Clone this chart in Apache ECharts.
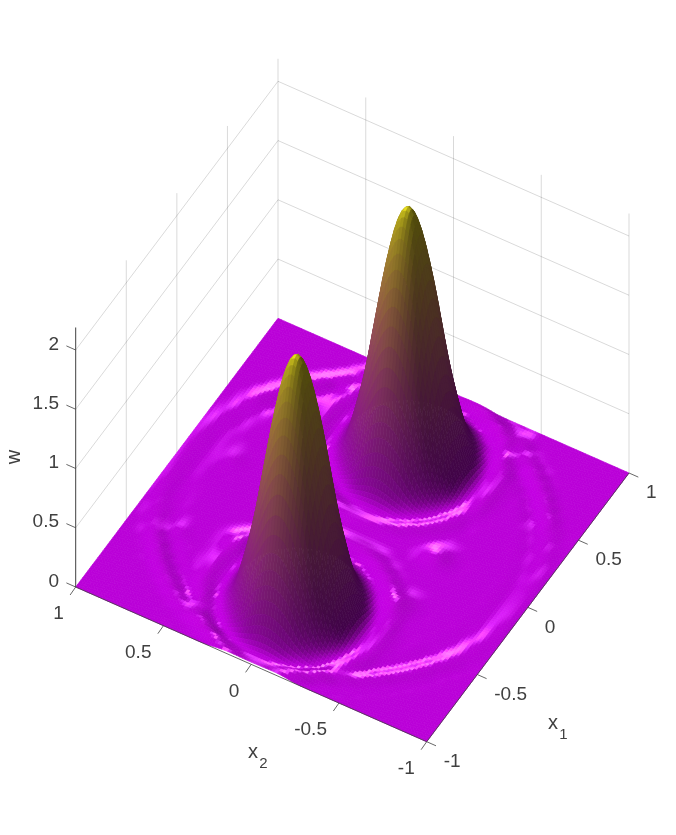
<!DOCTYPE html>
<html><head><meta charset="utf-8">
<style>html,body{margin:0;padding:0;background:#fff}#c{width:676px;height:835px}</style>
<script src="https://cdn.jsdelivr.net/npm/echarts@6/dist/echarts.min.js"></script>
</head><body><div id="c"></div>
<script>
// x1 runs along columns, x2 along rows
const x1Nodes=[-1,-.95,-.9,-.85,-.8,-.75,-.7,-.65,-.6,-.55,-.5,-.45,-.4,-.35,-.3,-.25,-.2,-.15,-.1,-.05,0,.05,.1,.15,.2,.25,.3,.35,.4,.45,.5,.55,.6,.65,.7,.75,.8,.85,.9,.95,1];
const x2Nodes=[1,.95,.9,.85,.8,.75,.7,.65,.6,.55,.5,.45,.4,.35,.3,.25,.2,.15,.1,.05,0,-.05,-.1,-.15,-.2,-.25,-.3,-.35,-.4,-.45,-.5,-.55,-.6,-.65,-.7,-.75,-.8,-.85,-.9,-.95,-1];
const x1Ticks=[-1,-.5,0,.5,1];
const x2Ticks=[-1,-.5,0,.5,1];
const wTicks=[0,.5,1,1.5,2];
const wTop=2.19;
const w=[
[0,0,0,0,0,0,0,0,0,0,0,0,0,0,0,0,0,0,0,0,0,0,0,0,0,0,0,0,0,0,0,0,0,0,0,0,0,0,0,0,0],
[0,0,0,0,0,0,0,0,0,0,0,0,0,0,.002,.006,.008,.01,.008,.008,.007,.008,.008,.01,.008,.006,.002,0,0,0,0,0,0,0,0,0,0,0,0,0,0],
[0,0,0,0,0,0,0,0,0,0,0,.001,.005,.009,.006,.001,-.002,-.003,-.004,-.005,-.005,-.005,-.004,-.003,-.002,.001,.006,.009,.005,.001,0,0,0,0,0,0,0,0,0,0,0],
[0,0,0,0,0,0,0,0,0,.001,.011,.01,.003,-.003,-.005,-.003,-.002,-.001,0,0,0,0,0,-.001,-.002,-.003,-.005,-.003,.003,.01,.011,.001,0,0,0,0,0,0,0,0,0],
[0,0,0,0,0,0,0,0,.003,.017,.009,-.003,-.004,-.002,0,0,0,0,0,0,0,0,0,0,0,0,0,-.002,-.004,-.003,.009,.017,.003,0,0,0,0,0,0,0,0],
[0,0,0,0,0,0,0,.007,.02,0,-.01,.006,.004,0,0,0,0,0,0,0,0,.004,.008,.004,0,0,0,0,0,-.002,-.01,0,.02,.007,0,0,0,0,0,0,0],
[0,0,0,0,0,0,.008,.017,-.005,-.007,-.002,.003,0,0,0,0,0,0,0,0,0,0,.004,0,0,0,0,0,0,0,-.002,-.007,-.005,.017,.008,0,0,0,0,0,0],
[0,0,0,0,0,.007,.017,-.006,-.006,0,0,0,0,0,0,0,0,0,0,0,0,0,0,0,0,0,0,0,0,0,0,0,-.006,-.006,.017,.007,0,0,0,0,0],
[0,0,0,0,.003,.02,-.005,-.006,0,0,0,0,0,0,0,0,0,0,0,0,0,0,0,0,0,0,0,0,0,0,0,0,0,-.006,-.005,.02,.003,0,0,0,0],
[0,0,0,.001,.017,0,-.007,0,0,0,0,0,0,0,0,0,0,0,0,0,0,0,0,0,0,0,0,0,0,0,0,0,0,0,-.007,0,.017,.001,0,0,0],
[0,0,0,.011,.009,-.01,0,.005,.009,.01,.009,.005,.007,.01,.005,0,0,0,0,0,0,0,0,0,0,0,0,0,.002,.005,.009,.01,.009,.005,0,-.01,.009,.011,0,0,0],
[0,0,.002,.02,-.003,.011,.02,.02,.017,.016,.017,.02,.03,.034,.013,0,0,0,0,0,0,0,0,0,0,0,0,.003,.014,.02,.02,.017,.016,.017,.02,.02,.011,-.003,.02,.002,0],
[0,0,.012,.016,.012,.014,-.003,-.012,-.011,-.01,-.011,-.012,.002,.024,.025,.01,.001,0,0,0,0,0,0,0,.001,.01,.02,.014,-.003,-.012,-.011,-.01,-.011,-.012,-.003,.014,.012,.016,.012,0,0],
[0,.002,.031,.014,-.003,-.011,-.005,.008,.02,.025,.02,.008,-.005,-.011,0,.02,.013,.001,0,0,0,0,0,.001,.013,.02,0,-.011,-.005,.008,.02,.025,.02,.008,-.005,-.011,-.003,.014,.031,.002,0],
[0,.015,.033,-.015,-.006,.012,.045,.085,.125,.14,.125,.085,.045,.012,-.005,-.005,.02,.01,0,0,0,0,0,.01,.02,-.005,-.005,.012,.045,.085,.125,.14,.125,.085,.045,.012,-.006,-.015,.033,.015,0],
[.003,.032,.002,-.011,.02,.075,.18,.32,.40,.43,.40,.32,.18,.075,.02,-.005,0,.02,.003,0,0,0,.003,.02,0,-.005,.02,.075,.18,.32,.40,.43,.40,.32,.18,.075,.02,-.011,.002,.032,.003],
[.014,.031,-.016,.009,.075,.22,.43,.60,.75,.80,.75,.60,.43,.22,.075,.012,-.011,.014,.014,0,0,0,.014,.014,-.011,.012,.075,.22,.43,.60,.75,.80,.75,.60,.43,.22,.075,.009,-.016,.031,.014],
[.021,.017,-.012,.043,.18,.43,.70,.98,1.18,1.26,1.18,.98,.70,.43,.18,.045,-.005,-.003,.02,.002,0,.002,.02,-.003,-.005,.045,.18,.43,.70,.98,1.18,1.26,1.18,.98,.70,.43,.18,.043,-.012,.017,.021],
[.022,.005,-.001,.084,.32,.60,.98,1.35,1.59,1.68,1.59,1.35,.98,.60,.32,.085,.008,-.012,.02,.005,0,.005,.02,-.012,.008,.085,.32,.60,.98,1.35,1.59,1.68,1.59,1.35,.98,.60,.32,.084,-.001,.005,.022],
[.02,.004,.01,.125,.40,.75,1.18,1.59,1.88,1.99,1.88,1.59,1.18,.75,.40,.125,.02,-.011,.017,.009,0,.009,.017,-.011,.02,.125,.40,.75,1.18,1.59,1.88,1.99,1.88,1.59,1.18,.75,.40,.125,.01,.004,.02],
[.019,.004,.015,.14,.43,.80,1.26,1.68,1.99,2.10,1.99,1.68,1.26,.80,.43,.14,.025,-.01,.016,.01,0,.01,.016,-.01,.025,.14,.43,.80,1.26,1.68,1.99,2.10,1.99,1.68,1.26,.80,.43,.14,.015,.004,.019],
[.02,.004,.01,.125,.40,.75,1.18,1.59,1.88,1.99,1.88,1.59,1.18,.75,.40,.125,.02,-.011,.017,.009,0,.009,.017,-.011,.02,.125,.40,.75,1.18,1.59,1.88,1.99,1.88,1.59,1.18,.75,.40,.125,.01,.004,.02],
[.022,.005,-.001,.084,.32,.60,.98,1.35,1.59,1.68,1.59,1.35,.98,.60,.32,.085,.008,-.012,.02,.005,0,.005,.02,-.012,.008,.085,.32,.60,.98,1.35,1.59,1.68,1.59,1.35,.98,.60,.32,.084,-.001,.005,.022],
[.021,.017,-.012,.043,.18,.43,.70,.98,1.18,1.26,1.18,.98,.70,.43,.18,.045,-.005,-.003,.02,.002,0,.002,.02,-.003,-.005,.045,.18,.43,.70,.98,1.18,1.26,1.18,.98,.70,.43,.18,.043,-.012,.017,.021],
[.014,.031,-.016,.009,.075,.22,.43,.60,.75,.80,.75,.60,.43,.22,.075,.012,-.011,.014,.014,0,0,0,.014,.014,-.011,.012,.075,.22,.43,.60,.75,.80,.75,.60,.43,.22,.075,.009,-.016,.031,.014],
[.003,.032,.002,-.011,.02,.075,.18,.32,.40,.43,.40,.32,.18,.075,.02,-.005,0,.02,.003,0,0,0,.003,.02,0,-.005,.02,.075,.18,.32,.40,.43,.40,.32,.18,.075,.02,-.011,.002,.032,.003],
[0,.015,.033,-.015,-.006,.012,.045,.085,.125,.14,.125,.085,.045,.012,-.005,-.005,.02,.01,0,0,0,0,0,.01,.02,-.005,-.005,.012,.045,.085,.125,.14,.125,.085,.045,.012,-.006,-.015,.033,.015,0],
[0,.002,.031,.014,-.003,-.011,-.005,.008,.02,.025,.02,.008,-.005,-.011,0,.02,.013,.001,0,0,0,0,0,.001,.013,.02,0,-.011,-.005,.008,.02,.025,.02,.008,-.005,-.011,-.003,.014,.031,.002,0],
[0,0,.012,.016,.012,.014,-.003,-.012,-.011,-.01,-.011,-.012,-.003,.019,.03,.015,.001,0,0,0,.006,.012,.006,0,.001,.01,.02,.014,-.003,-.012,-.011,-.01,-.011,-.012,-.003,.014,.012,.016,.012,0,0],
[0,0,.002,.02,-.003,.011,.02,.02,.017,.016,.017,.02,.02,.024,.023,.01,0,0,0,0,.012,.025,.012,0,0,0,0,.003,.014,.02,.02,.017,.016,.017,.02,.02,.011,-.003,.02,.002,0],
[0,0,0,.011,.009,-.01,0,.005,.009,.01,.009,.005,.002,.005,.01,.005,0,0,0,0,.006,.012,.006,0,0,0,0,0,.002,.005,.009,.01,.009,.005,0,-.01,.009,.011,0,0,0],
[0,0,0,.001,.017,0,-.007,0,0,0,0,0,0,0,0,0,0,0,0,0,0,0,0,0,0,0,0,0,0,0,0,0,0,0,-.007,0,.017,.001,0,0,0],
[0,0,0,0,.003,.02,-.005,-.006,0,0,0,0,0,0,0,0,0,0,0,0,0,0,0,0,0,0,0,0,0,0,0,0,0,-.006,-.005,.02,.003,0,0,0,0],
[0,0,0,0,0,.007,.017,-.006,-.006,0,0,0,0,0,0,0,0,0,0,0,0,0,0,0,0,0,0,0,0,0,0,0,-.006,-.006,.017,.007,0,0,0,0,0],
[0,0,0,0,0,0,.008,.017,-.005,-.007,-.002,0,0,0,0,0,0,0,0,0,0,0,0,0,0,0,0,0,0,0,-.002,-.007,-.005,.017,.008,0,0,0,0,0,0],
[0,0,0,0,0,0,0,.007,.02,0,-.01,-.002,0,0,0,0,0,0,0,0,0,0,0,0,0,0,0,0,0,-.002,-.01,0,.02,.007,0,0,0,0,0,0,0],
[0,0,0,0,0,0,0,0,.003,.017,.009,-.003,-.004,-.002,0,0,0,0,0,0,0,0,0,0,0,0,0,-.002,-.004,-.003,.009,.017,.003,0,0,0,0,0,0,0,0],
[0,0,0,0,0,0,0,0,0,.001,.011,.01,.003,-.003,-.005,-.003,-.002,-.001,0,0,0,0,0,-.001,-.002,-.003,-.005,-.003,.003,.01,.011,.001,0,0,0,0,0,0,0,0,0],
[0,0,0,0,0,0,0,0,0,0,0,.001,.005,.009,.006,.001,-.002,-.003,-.004,-.005,-.005,-.005,-.004,-.003,-.002,.001,.006,.009,.005,.001,0,0,0,0,0,0,0,0,0,0,0],
[0,0,0,0,0,0,0,0,0,0,0,0,0,0,.002,.006,.008,.01,.008,.008,.007,.008,.008,.01,.008,.006,.002,0,0,0,0,0,0,0,0,0,0,0,0,0,0],
[0,0,0,0,0,0,0,0,0,0,0,0,0,0,0,0,0,0,0,0,0,0,0,0,0,0,0,0,0,0,0,0,0,0,0,0,0,0,0,0,0]
];

// orthographic view of the box, read from the box corners
const project=(a,b,c)=>[352.35+101.15*a-175.5*b, 530-134.35*a-77.35*b-118.5*c];

const SUB=3, NC=x1Nodes.length-1, NR=x2Nodes.length-1;
const clampI=(v,m)=>Math.max(0,Math.min(m,v));
const cr=(p0,p1,p2,p3,t)=>.5*((2*p1)+(p2-p0)*t+(2*p0-5*p1+4*p2-p3)*t*t+(3*p1-p0-3*p2+p3)*t*t*t);
function smooth(u,v){
  const i=Math.min(Math.floor(u),NC-1), j=Math.min(Math.floor(v),NR-1), tu=u-i, tv=v-j;
  const row=[];
  for(let r=-1;r<=2;r++){
    const R=w[clampI(j+r,NR)];
    row.push(cr(R[clampI(i-1,NC)],R[i],R[i+1],R[clampI(i+2,NC)],tu));
  }
  return cr(row[0],row[1],row[2],row[3],tv);
}
const FN=NC*SUB;
const Z=[];
for(let b=0;b<=FN;b++){const r=[];for(let a=0;a<=FN;a++)r.push(smooth(a/SUB,b/SUB));Z.push(r);}
const fx1=a=>{const i=Math.min(Math.floor(a/SUB),NC-1);return x1Nodes[i]+(x1Nodes[i+1]-x1Nodes[i])*(a/SUB-i);};
const fx2=b=>{const j=Math.min(Math.floor(b/SUB),NR-1);return x2Nodes[j]+(x2Nodes[j+1]-x2Nodes[j])*(b/SUB-j);};
const cl=v=>clampI(v,FN);

// lighting
const LOW=[186,0,216], HIGH=[232,222,30];
const norm=v=>{const m=Math.hypot(v[0],v[1],v[2]);return v.map(x=>x/m);};
const L=norm([-.2,.34,.92]), H=norm([.17,.115,1]);
const AMB=.35, DIF=(1-AMB)/L[2], S0=Math.pow(H[2],100);
function shade(a,b){
  const gx=((Z[b][cl(a+3)]-Z[b][cl(a-3)])/(fx1(cl(a+3))-fx1(cl(a-3)))+(Z[b+1][cl(a+4)]-Z[b+1][cl(a-2)])/(fx1(cl(a+4))-fx1(cl(a-2))))/2;
  const gy=((Z[cl(b+3)][a]-Z[cl(b-3)][a])/(fx2(cl(b+3))-fx2(cl(b-3)))+(Z[cl(b+4)][a+1]-Z[cl(b-2)][a+1])/(fx2(cl(b+4))-fx2(cl(b-2))))/2;
  const n=norm([-gx,-gy,1]);
  const z=(Z[b][a]+Z[b][a+1]+Z[b+1][a]+Z[b+1][a+1])/4;
  const t=Math.max(0,Math.min(1,z/2.1));
  const f=AMB+DIF*Math.max(0,n[0]*L[0]+n[1]*L[1]+n[2]*L[2]);
  const sp=.5*255*Math.max(0,(Math.pow(Math.max(0,n[0]*H[0]+n[1]*H[1]+n[2]*H[2]),100)-S0)/(1-S0));
  const c=[0,1,2].map(k=>Math.min(255,Math.round((LOW[k]+(HIGH[k]-LOW[k])*t)*f+sp*(1-.75*t))));
  return 'rgb('+c.join(',')+')';
}

// surface cells, far corner first
const cells=[];
for(let i=NC-1;i>=0;i--)for(let j=0;j<NR;j++)cells.push([i,j]);

function renderCell(params,api){
  const i=api.value(0), j=api.value(1), kids=[];
  for(let a=(i+1)*SUB-1;a>=i*SUB;a--)for(let b=j*SUB;b<(j+1)*SUB;b++){
    const pts=[[a,b],[a+1,b],[a+1,b+1],[a,b+1]].map(p=>api.coord(project(fx1(p[0]),fx2(p[1]),Z[p[1]][p[0]])));
    const col=shade(a,b);
    kids.push({type:'polygon',shape:{points:pts},style:{fill:col,stroke:col,lineWidth:.7},silent:true});
  }
  return {type:'group',children:kids};
}

// wall grid
const grids=[];
[.5,0,-.5].forEach(v=>grids.push([v,1,0,v,1,wTop]));
[1,.5,0,-.5,-1].forEach(v=>grids.push([1,v,0,1,v,wTop]));
wTicks.slice(1).forEach(v=>{grids.push([-1,1,v,1,1,v]);grids.push([1,1,v,1,-1,v]);});

const seg=(api,p,q,stroke,lw)=>({type:'line',shape:{x1:api.coord(p)[0],y1:api.coord(p)[1],x2:api.coord(q)[0],y2:api.coord(q)[1]},style:{stroke,lineWidth:lw},silent:true});
const INK='#404040', FONT='"Liberation Sans",Arial,sans-serif';
const txt=(api,p,text,dx,dy,align,size,rot)=>{const c=api.coord(p);return {type:'text',x:c[0]+dx,y:c[1]+dy,rotation:rot||0,style:{text,fill:INK,font:size+'px '+FONT,textAlign:align,textVerticalAlign:'middle'},silent:true};};
const lab=v=>String(v);

function renderAxes(params,api){
  const k=[];
  const add=(a,b)=>[a[0]+b[0],a[1]+b[1]];
  // box edges
  k.push(seg(api,project(-1,1,0),project(-1,-1,0),INK,.8));
  k.push(seg(api,project(-1,-1,0),project(1,-1,0),INK,.8));
  k.push(seg(api,project(-1,1,0),project(-1,1,wTop),INK,1));
  x1Ticks.forEach(v=>{const p=project(v,-1,0);k.push(seg(api,p,add(p,[9.3,4.1]),INK,.8));k.push(txt(api,p,lab(v),17,20,'left',19));});
  x2Ticks.forEach(v=>{const p=project(-1,v,0);k.push(seg(api,p,add(p,[-5.6,8]),INK,.8));k.push(txt(api,p,lab(v),-12,27,'right',19));});
  wTicks.forEach(v=>{const p=project(-1,1,v);k.push(seg(api,p,add(p,[-9.3,-4.1]),INK,.8));k.push(txt(api,p,lab(v),-16.7,-5.5,'right',19));});
  k.push(txt(api,[553,723],'x',0,0,'center',20));
  k.push(txt(api,[563.5,735],'1',0,0,'center',15));
  k.push(txt(api,[253,752],'x',0,0,'center',20));
  k.push(txt(api,[263.5,764],'2',0,0,'center',15));
  k.push(txt(api,[14,457],'w',0,0,'center',20,Math.PI/2));
  return {type:'group',children:k};
}

const chart=echarts.init(document.getElementById('c'),null,{renderer:'canvas'});
chart.setOption({
  animation:false,
  backgroundColor:'#fff',
  grid:{left:0,right:0,top:0,bottom:0},
  xAxis:{type:'value',min:0,max:676,show:false},
  yAxis:{type:'value',min:0,max:835,inverse:true,show:false},
  series:[
    {type:'custom',z:1,silent:true,progressive:0,data:grids,clip:false,
     renderItem:(p,api)=>seg(api,project(api.value(0),api.value(1),api.value(2)),project(api.value(3),api.value(4),api.value(5)),'rgba(0,0,0,.15)',1)},
    {type:'custom',z:2,silent:true,progressive:0,data:cells,clip:false,renderItem:renderCell},
    {type:'custom',z:3,silent:true,progressive:0,data:[[0]],clip:false,renderItem:renderAxes}
  ]
});
</script></body></html>
